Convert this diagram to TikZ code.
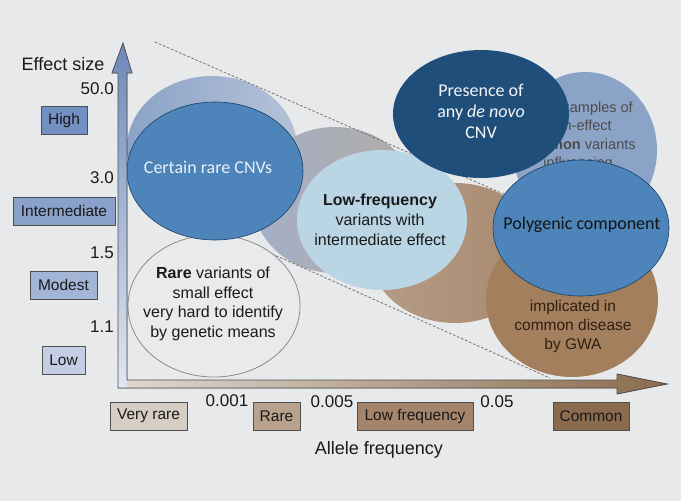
\documentclass[tikz,border=0pt]{standalone}
\usepackage{fontspec}
\setmainfont{Liberation Sans}
\newfontfamily\calibri{Carlito}
\usetikzlibrary{shapes.geometric}
\definecolor{bg}{HTML}{E8E9EA}
\definecolor{edgegray}{HTML}{505050}
\definecolor{hiBox}{HTML}{7390C3}
\definecolor{intBox}{HTML}{8AA2CA}
\definecolor{modBox}{HTML}{A3B5D6}
\definecolor{lowBox}{HTML}{C3CEE4}
\definecolor{vrBox}{HTML}{D6CDC4}
\definecolor{rBox}{HTML}{B8A18D}
\definecolor{lfBox}{HTML}{A4846A}
\definecolor{cBox}{HTML}{8B6B4E}
\definecolor{midBlue}{HTML}{4D84BA}
\definecolor{navy}{HTML}{1F4E7A}
\definecolor{paleBlue}{HTML}{BAD5E4}
\definecolor{greyBlue}{HTML}{8BA3C7}
\definecolor{brownA}{HTML}{A8896E}
\definecolor{brownB}{HTML}{A37F5E}
\definecolor{midL}{HTML}{A3AFC7}
\definecolor{midR}{HTML}{B3ABA5}
\definecolor{txtdark}{HTML}{1A1A1A}
\tikzset{
  ell/.style={ellipse, inner sep=0pt},
  lbox/.style={draw=edgegray, line width=0.8pt, inner sep=0pt, minimum height=28pt, text=txtdark, font=\fontsize{15.5}{18}\selectfont},
  tick/.style={inner sep=0pt, text=txtdark, font=\fontsize{17}{20}\selectfont},
  axtitle/.style={inner sep=0pt, text=txtdark, font=\fontsize{18}{21}\selectfont},
  bodytxt/.style={inner sep=0pt, align=center, text=txtdark, font=\fontsize{16}{19.5}\selectfont},
  calitxt/.style={inner sep=0pt, align=center, font=\calibri\fontsize{18}{21}\selectfont},
  dashline/.style={draw=black!55, line width=0.8pt, dash pattern=on 2.6pt off 1.8pt}
}
\begin{document}
\begin{tikzpicture}[x=1pt,y=-1pt]
\useasboundingbox (0,0) rectangle (681,501);
\fill[bg] (0,0) rectangle (681,501);

% back ellipses
\node[ell, minimum width=170pt, minimum height=144pt, left color=greyBlue, right color=greyBlue!55!bg] (bTL) at (212,148) {};
\node[ell, minimum width=164pt, minimum height=146pt, left color=midL, right color=midR] (bMid) at (335,200) {};
\node[ell, minimum width=144pt, minimum height=156pt, fill=greyBlue] (bTR) at (585,150) {};
\node[inner sep=0pt, align=center, text=black!70, font=\fontsize{14.5}{18.5}\selectfont] (tTR) at (578,144) {Few examples of\\high-effect\\\textbf{common} variants\\influencing\\common disease};
\node[ell, minimum width=170pt, minimum height=140pt, left color=brownA!80!bg, right color=brownA] (bBr1) at (455,253) {};
\node[ell, minimum width=172pt, minimum height=154pt, fill=brownB] (bBr2) at (572,300) {};
\node[inner sep=0pt, align=center, text=black!75!brown, font=\fontsize{15.5}{19}\selectfont] (tBr2) at (573,326) {implicated in\\common disease\\by GWA};

% dashed guide lines
\coordinate (d1a) at (155,42);
\coordinate (d1b) at (545,212);
\coordinate (d2a) at (232,236);
\coordinate (d2b) at (550,378);
\draw[dashline] (d1a) -- (d1b);
\draw[dashline] (d2a) -- (d2b);

% front ellipses
\node[ell, minimum width=172pt, minimum height=142pt, fill=bg!95!white, draw=black!45, line width=0.8pt] (rare) at (214,306) {};
\node[bodytxt] (tRare) at (213,304) {\textbf{Rare} variants of\\small effect\\very hard to identify\\by genetic means};
\node[ell, minimum width=176pt, minimum height=138pt, fill=midBlue, draw=navy!80!black, line width=0.6pt] (cnv) at (215,171) {};
\node[calitxt, text=white!88!midBlue] (tCnv) at (208,167) {Certain rare CNVs};
\node[ell, minimum width=170pt, minimum height=140pt, fill=paleBlue] (lowf) at (382,220) {};
\node[bodytxt, font=\fontsize{16}{20}\selectfont] (tLowf) at (380,220) {\textbf{Low-frequency}\\variants with\\intermediate effect};
\node[ell, minimum width=176pt, minimum height=128pt, fill=navy] (denovo) at (481,114) {};
\node[calitxt, text=white!95!navy] (tDenovo) at (481,111) {Presence of\\any \textit{de novo}\\CNV};
\node[ell, minimum width=176pt, minimum height=136pt, fill=midBlue, draw=navy!80!black, line width=0.6pt] (poly) at (581,228) {};
\node[calitxt, text=black!92] (tPoly) at (582,225) {Polygenic component};

% axes
\fill[top color=hiBox!95!black, bottom color=lowBox!50!white] (123,43) -- (132,73) -- (127,73) -- (127,388) -- (118,388) -- (118,73) -- (112,73) -- cycle;
\fill[left color=vrBox!80!white, right color=cBox] (127,380) -- (617,380) -- (617,374) -- (667,384) -- (617,394) -- (617,388) -- (127,388) -- cycle;
\draw[edgegray, line width=0.8pt, line join=miter] (123,43) -- (132,73) -- (127,73) -- (127,380) -- (617,380) -- (617,374) -- (667,384) -- (617,394) -- (617,388) -- (118,388) -- (118,73) -- (112,73) -- cycle;

% y-axis labels
\node[axtitle] (ytitle) at (63,64) {Effect size};
\node[tick, anchor=east] (y50) at (114,89) {50.0};
\node[tick, anchor=east] (y30) at (114,178) {3.0};
\node[tick, anchor=east] (y15) at (114,253) {1.5};
\node[tick, anchor=east] (y11) at (114,327) {1.1};
\node[lbox, fill=hiBox, minimum width=46pt] (high) at (64,120) {High};
\node[lbox, fill=intBox, minimum width=102pt] (inter) at (64,211) {Intermediate};
\node[lbox, fill=modBox, minimum width=67pt] (modest) at (63.5,285) {Modest};
\node[lbox, fill=lowBox, minimum width=43pt] (low) at (63.5,360) {Low};

% x-axis labels
\node[lbox, fill=vrBox, minimum width=77pt] (vrare) at (148.5,416) {Very rare};
\node[lbox, fill=rBox, minimum width=47pt] (rarebox) at (276.5,416) {Rare};
\node[lbox, fill=lfBox, minimum width=116pt] (lfbox) at (415,416) {Low frequency};
\node[lbox, fill=cBox, minimum width=76pt] (common) at (591,416) {Common};
\node[tick] (x001) at (227,401) {0.001};
\node[tick] (x005) at (332,402) {0.005};
\node[tick] (x05) at (497,402) {0.05};
\node[axtitle] (xtitle) at (379,450) {Allele frequency};
\end{tikzpicture}
\end{document}
